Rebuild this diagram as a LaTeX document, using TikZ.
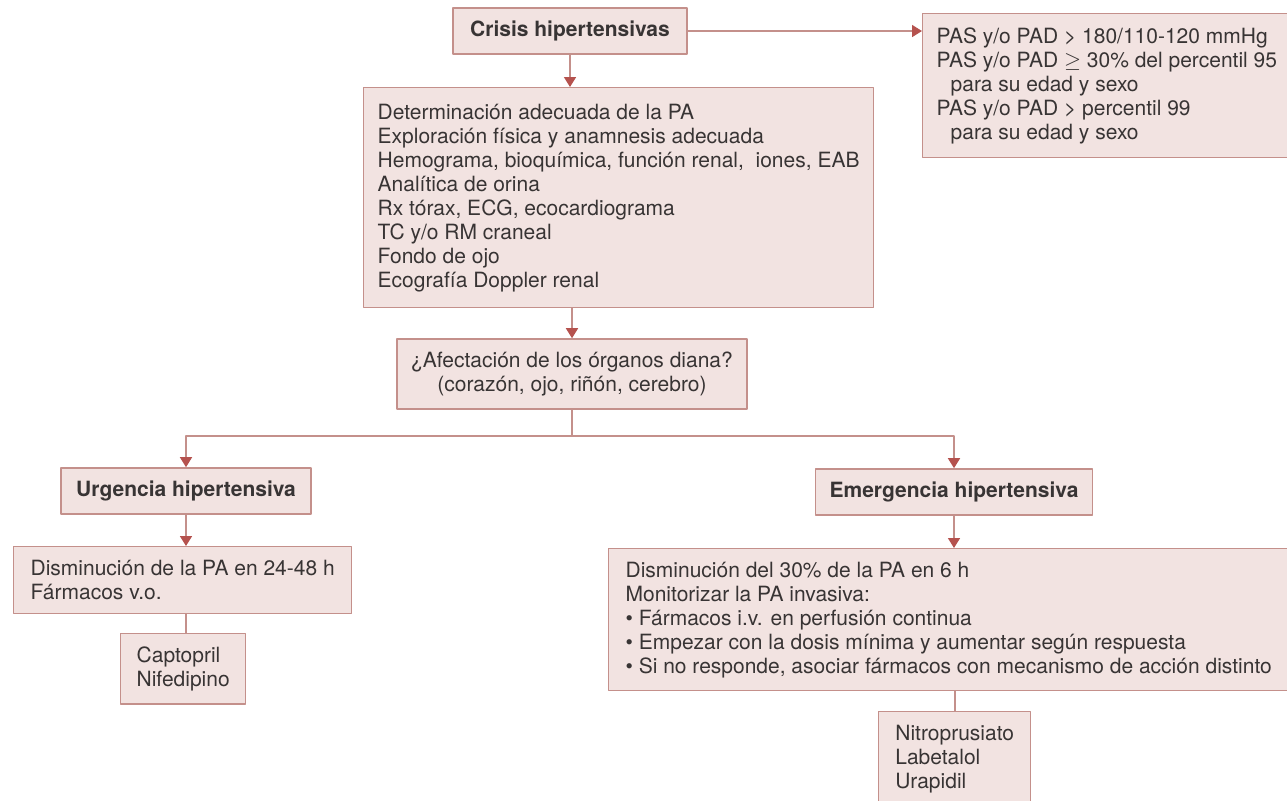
\documentclass[tikz,border=0pt]{standalone}
\usepackage{fontspec}
\setmainfont{TeX Gyre Heros}
\usetikzlibrary{arrows.meta}
\definecolor{caja}{HTML}{F2E3E1}
\definecolor{borde}{HTML}{C4908B}
\definecolor{flecha}{HTML}{B5524E}
\definecolor{texto}{HTML}{383434}
\begin{document}
\begin{tikzpicture}[x=0.5pt, y=-0.5pt, font=\fontsize{10.5}{12}\selectfont, line join=round,
	box/.style={draw=borde, fill=caja, line width=.7pt, text=texto, inner xsep=7pt, inner ysep=6.5pt, align=left},
	title/.style={box, font=\fontsize{10.5}{12}\selectfont\bfseries, align=center},
	link/.style={draw=borde, line width=.8pt},
	>={Triangle[width=6pt, length=5pt, color=flecha]}]
	\useasboundingbox (0,0) rectangle (1287,800);
	\node[title, minimum width=117pt, minimum height=18.5pt] (crisis) at (570,31) {Crisis hipertensivas};
	\node[box, anchor=north west, minimum width=182pt, minimum height=72pt] (criterios) at (922,13)
		{PAS y/o PAD > 180/110-120 mmHg\\ PAS y/o PAD $\geq$ 30\% del percentil 95\\ \hspace*{7pt}para su edad y sexo\\
		PAS y/o PAD > percentil 99\\ \hspace*{7pt}para su edad y sexo};
	\node[box, anchor=north west, minimum height=110pt] (pruebas) at (363,87)
		{Determinación adecuada de la PA\\ Exploración física y anamnesis adecuada\\
		Hemograma, bioquímica, función renal,\ \ iones, EAB\\ Analítica de orina\\ Rx tórax, ECG, ecocardiograma\\
		TC y/o RM craneal\\ Fondo de ojo\\ Ecografía Doppler renal};
	\node[box, align=center, minimum height=34pt] (diana) at (572,374)
		{¿Afectación de los órganos diana?\\ (corazón, ojo, riñón, cerebro)};
	\node[title, minimum width=125pt, minimum height=21pt] (urgencia) at (186,491) {Urgencia hipertensiva};
	\node[title, minimum width=136pt, minimum height=21pt] (emergencia) at (954,492) {Emergencia hipertensiva};
	\node[box, anchor=north west, minimum width=169pt, minimum height=33.5pt] (oral) at (13,546)
		{Disminución de la PA en 24-48 h\\ Fármacos v.o.};
	\node[box, anchor=north west, minimum width=62.5pt, minimum height=34.5pt] (capto) at (120,633)
		{Captopril\\ Nifedipino};
	\node[box, anchor=north west, minimum width=340pt, minimum height=71pt] (iv) at (608,548)
		{Disminución del 30\% de la PA en 6 h\\ Monitorizar la PA invasiva:\\
		• Fármacos i.v. en perfusión continua\\ • Empezar con la dosis mínima y aumentar según respuesta\\
		• Si no responde, asociar fármacos con mecanismo de acción distinto};
	\node[box, anchor=north west, minimum width=76pt, minimum height=46pt] (nitro) at (878,711)
		{Nitroprusiato\\ Labetalol\\ Urapidil};
	\coordinate (rama) at (572,436);
	\draw[link, ->] (crisis.east) -- (crisis.east -| criterios.west);
	\draw[link, ->] (crisis.south) -- (crisis.south |- pruebas.north);
	\draw[link, ->] (diana.north |- pruebas.south) -- (diana.north);
	\draw[link] (diana.south) -- (rama);
	\draw[link, ->] (rama) -| (urgencia.north);
	\draw[link, ->] (rama) -| (emergencia.north);
	\draw[link, ->] (urgencia.south) -- (urgencia.south |- oral.north);
	\draw[link] (urgencia.south |- oral.south) -- (urgencia.south |- capto.north);
	\draw[link, ->] (emergencia.south) -- (emergencia.south |- iv.north);
	\draw[link] (nitro.north |- iv.south) -- (nitro.north);
\end{tikzpicture}
\end{document}
